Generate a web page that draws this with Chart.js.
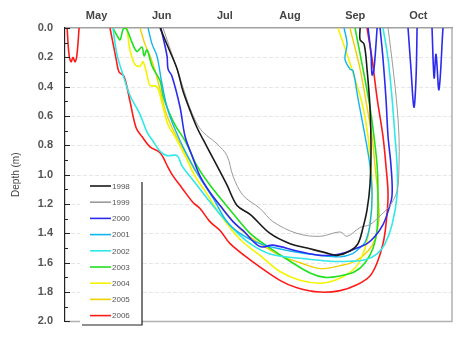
<!DOCTYPE html>
<html>
<head>
<meta charset="utf-8">
<script src="https://cdn.jsdelivr.net/npm/chart.js@4/dist/chart.umd.min.js"></script>
<style>
  html, body { margin: 0; padding: 0; background: #fff; }
  canvas { display: block; }
</style>
</head>
<body>
<canvas id="chart" width="460" height="340"></canvas>
<script>
// day of year / depth (m); null = break in the record
const years = ['1998', '1999', '2000', '2001', '2002', '2003', '2004', '2005', '2006'];
const monthLabels = ['May', 'Jun', 'Jul', 'Aug', 'Sep', 'Oct'];
const monthDays = [135, 166, 196, 227, 258, 288];
const depthTicks = [0, 0.2, 0.4, 0.6, 0.8, 1.0, 1.2, 1.4, 1.6, 1.8, 2.0];

const days1998 = [165.2,169.9,173.3,176.1,179.4,182.8,187.5,192.3,197.0,201.8,208.0,217.5,227.0,235.1,246.0,249.3,255.5,259.3,261.7,263.6,265.0,265.5,265.0,263.6,262.2,260.3,260.3];
const depth1998 = [0,0.16,0.28,0.43,0.56,0.68,0.81,0.94,1.07,1.21,1.27,1.40,1.47,1.50,1.54,1.55,1.52,1.47,1.36,1.24,1.07,0.81,0.54,0.28,0.11,0.08,0];

const days1999 = [166.6,170.9,174.7,178.5,182.3,185.6,192.3,197.0,199.9,204.6,212.7,218.9,230.3,241.3,250.8,254.1,260.3,265.0,269.8,274.5,277.9,278.8,278.8,277.9,276.0,273.6];
const depth1999 = [0,0.18,0.34,0.51,0.64,0.71,0.79,0.87,1.01,1.14,1.23,1.32,1.40,1.42,1.39,1.42,1.36,1.34,1.28,1.21,1.11,0.94,0.74,0.54,0.28,0];

const days2000 = [165.6,168.5,169.0,170.9,174.7,177.1,180.4,184.2,188.9,193.7,199.9,204.6,212.7,218.9,230.3,241.3,250.8,258.8,263.6,267.4,271.2,273.6,275.5,275.0,273.6,272.6,271.2,269.8, null,
  264.1,265.5,266.0,266.9,268.4, null,
  283.1,284.5,285.9,286.9,287.4, null,
  294.5,295.5,296.4,297.8,299.7];
const depth2000 = [0,0.19,0.28,0.33,0.54,0.74,0.87,1.01,1.12,1.21,1.32,1.38,1.49,1.48,1.52,1.55,1.54,1.50,1.47,1.42,1.34,1.25,1.14,0.94,0.74,0.48,0.21,0, null,
  0,0.18,0.32,0.28,0, null,
  0,0.28,0.54,0.34,0, null,
  0,0.34,0.18,0.42,0];

const days2001 = [159.5,161.4,163.7,166.1,168.5,171.4,176.1,182.8,190.4,197.0,203.2,212.7,227.0,241.3,250.8,256.5,259.3,262.7,265.0,266.0,265.0,262.7,259.3,256.9,255.5,253.1,254.1,252.7];
const depth2001 = [0,0.11,0.19,0.38,0.54,0.66,0.81,0.99,1.16,1.32,1.40,1.47,1.52,1.55,1.56,1.54,1.51,1.46,1.34,1.14,0.94,0.74,0.48,0.29,0.28,0.21,0.11,0];

const days2002 = [142.8,144.7,147.6,150.9,155.7,159.0,161.8,165.2,168.5,173.3,175.6,179.4,187.5,193.7,200.8,208.0,217.5,231.7,246.0,255.5,262.7,268.4,272.2,275.5,277.9,277.9,276.9,275.5,273.6,271.2];
const depth2002 = [0,0.18,0.32,0.46,0.59,0.71,0.77,0.84,0.87,0.87,0.94,1.01,1.16,1.27,1.38,1.47,1.54,1.57,1.59,1.59,1.58,1.54,1.47,1.34,1.14,0.94,0.74,0.48,0.21,0];

const days2003 = [142.8,144.7,146.2,147.6,149.0,151.9,154.2,156.6,157.6,159.0,161.4,165.2,166.6,168.5,172.3,177.1,182.8,188.9,198.5,208.0,217.5,227.0,236.5,243.6,250.8,257.9,262.7,266.5,268.4,268.8,268.4,266.9,265.0,261.7,257.9];
const depth2003 = [0,0.05,0.08,0.01,0,0.10,0.16,0.13,0.19,0.15,0.26,0.36,0.46,0.54,0.66,0.77,0.94,1.07,1.24,1.40,1.50,1.59,1.67,1.70,1.69,1.66,1.60,1.50,1.37,1.14,0.94,0.74,0.54,0.28,0];

const days2004 = [149.5,150.9,153.3,155.7,157.1,159.0,160.4,163.7,166.1,169.0,172.3,177.1,181.8,186.6,193.7,203.2,212.7,222.2,231.7,241.3,248.4,254.1,258.8,262.7,265.0,266.0,265.5,264.1,261.7,258.8,254.1,249.8];
const depth2004 = [0,0.15,0.25,0.26,0.23,0.32,0.39,0.40,0.51,0.66,0.74,0.87,1.01,1.11,1.27,1.44,1.55,1.66,1.72,1.74,1.72,1.68,1.62,1.50,1.34,1.14,0.94,0.74,0.54,0.39,0.18,0];

const days2005 = [155.7,158.0,160.4,162.8,165.2,167.6,170.9,175.6,181.8,188.9,196.1,203.2,212.7,222.2,231.7,241.3,250.8,257.9,264.1,267.4,269.3,268.8,267.4,266.0,263.6,260.3,255.5];
const depth2005 = [0,0.11,0.19,0.29,0.42,0.56,0.68,0.81,0.97,1.12,1.25,1.37,1.47,1.55,1.60,1.64,1.62,1.59,1.52,1.44,1.30,1.14,0.94,0.74,0.54,0.28,0];

const days2006 = [121.0,121.9,122.9,123.8,124.8,125.7,126.7, null,
  141.4,144.3,145.7,148.1,150.9,153.8,156.6,160.4,165.2,169.0,171.4,175.6,180.9,184.2,188.9,193.7,198.5,208.0,222.2,230.3,241.3,250.8,258.8,265.0,268.4,271.2,272.6,273.6,272.6,271.2,268.4,266.0,263.6];
const depth2006 = [0,0.18,0.23,0.20,0.23,0.18,0, null,
  0,0.21,0.30,0.33,0.50,0.68,0.74,0.81,0.85,0.95,1.01,1.09,1.19,1.23,1.32,1.38,1.47,1.58,1.72,1.77,1.80,1.79,1.75,1.69,1.60,1.47,1.34,1.14,0.94,0.74,0.48,0.21,0];

const allDays = [days1998, days1999, days2000, days2001, days2002, days2003, days2004, days2005, days2006];
const allDepths = [depth1998, depth1999, depth2000, depth2001, depth2002, depth2003, depth2004, depth2005, depth2006];

// estilos
const colors = ['#1a1a1a', '#9a9a9a', '#2b2bf0', '#10b4f0', '#30e8e8', '#20e020', '#f4f400', '#f0d000', '#ff1a1a'];
const widths = [1.6, 1, 1.6, 1.4, 1.6, 1.6, 1.6, 1.4, 1.6];

function toPoints(d, v) {
    return d.map((x, i) => (x === null ? { x: null, y: null } : { x: x, y: v[i] }));
}

const datasets = years.map((y, i) => ({
    label: y,
    data: toPoints(allDays[i], allDepths[i]),
    borderColor: colors[i],
    borderWidth: widths[i],
    pointRadius: 0,
    tension: 0.35,
    spanGaps: false,
    fill: false
}));

// grade, ticks, bordas e legenda
const decor = {
    id: 'decor',
    beforeDatasetsDraw(chart) {
        const { ctx, chartArea: ca, scales: { y } } = chart;
        ctx.save();
        ctx.strokeStyle = '#e6e6e6';
        ctx.lineWidth = 1;
        ctx.setLineDash([4, 2]);
        depthTicks.slice(1, -1).forEach(v => {
            const py = Math.round(y.getPixelForValue(v)) + 0.5;
            ctx.beginPath();
            ctx.moveTo(ca.left, py);
            ctx.lineTo(ca.right, py);
            ctx.stroke();
        });
        ctx.restore();
    },
    afterDraw(chart) {
        const { ctx, chartArea: ca, scales: { y } } = chart;
        ctx.save();
        // bordas direita e inferior
        ctx.strokeStyle = '#b0b0b0';
        ctx.lineWidth = 1.5;
        ctx.beginPath();
        ctx.moveTo(ca.left, ca.bottom);
        ctx.lineTo(ca.right, ca.bottom);
        ctx.lineTo(ca.right, ca.top);
        ctx.stroke();
        // ticks do eixo y (para dentro)
        ctx.strokeStyle = '#222';
        ctx.lineWidth = 1;
        for (let k = 0; k <= 20; k++) {
            const py = Math.round(y.getPixelForValue(k / 10)) + 0.5;
            const len = k % 2 === 0 ? 5 : 3;
            ctx.beginPath();
            ctx.moveTo(ca.left, py);
            ctx.lineTo(ca.left + len, py);
            ctx.stroke();
        }
        // legenda
        const lx = ca.left + 15, ly = ca.top + 151;
        const lw = 62, lh = 146;
        ctx.fillStyle = '#fff';
        ctx.fillRect(lx, ly, lw, lh);
        ctx.strokeStyle = '#222';
        ctx.lineWidth = 1.2;
        ctx.beginPath();
        ctx.moveTo(lx + lw, ly + 3);
        ctx.lineTo(lx + lw, ly + lh);
        ctx.lineTo(lx + 2, ly + lh);
        ctx.stroke();
        ctx.font = '8px "Liberation Sans", Arial, sans-serif';
        ctx.textBaseline = 'middle';
        ctx.textAlign = 'left';
        years.forEach((yr, i) => {
            const ry = ly + 7 + i * 16.2;
            ctx.strokeStyle = colors[i];
            ctx.lineWidth = 1.6;
            ctx.beginPath();
            ctx.moveTo(lx + 10, ry);
            ctx.lineTo(lx + 31, ry);
            ctx.stroke();
            ctx.fillStyle = '#555';
            ctx.fillText(yr, lx + 32, ry + 0.5);
        });
        ctx.restore();
    }
};

const ctx = document.getElementById('chart').getContext('2d');
new Chart(ctx, {
    type: 'line',
    data: { datasets: datasets },
    options: {
        responsive: false,
        devicePixelRatio: 1,
        animation: false,
        parsing: true,
        layout: { padding: { left: 0, right: 8, top: 0, bottom: 10 } },
        plugins: { legend: { display: false }, tooltip: { enabled: false } },
        scales: {
            x: {
                type: 'linear',
                position: 'top',
                min: 120,
                max: 304,
                afterBuildTicks: s => { s.ticks = monthDays.map(v => ({ value: v })); },
                afterFit: s => { s.height = 28; },
                ticks: {
                    autoSkip: false,
                    maxRotation: 0,
                    padding: 5,
                    color: '#444',
                    font: { family: '"Liberation Sans", Arial, sans-serif', size: 11, weight: 'bold' },
                    callback: v => monthLabels[monthDays.indexOf(v)]
                },
                grid: { display: false, drawTicks: false },
                border: { display: true, color: '#a0a0a0', width: 1.5 }
            },
            y: {
                type: 'linear',
                reverse: true,
                min: 0,
                max: 2,
                afterBuildTicks: s => { s.ticks = depthTicks.map(v => ({ value: v })); },
                afterFit: s => { s.width = 65; },
                ticks: {
                    padding: 12,
                    color: '#555',
                    font: { family: '"Liberation Sans", Arial, sans-serif', size: 11, weight: 'bold' },
                    callback: v => v.toFixed(1)
                },
                grid: { display: false, drawTicks: false },
                border: { display: true, color: '#222', width: 1.2 },
                title: {
                    display: true,
                    text: 'Depth (m)',
                    color: '#444',
                    padding: { top: 10, bottom: 0 },
                    font: { family: '"Liberation Sans", Arial, sans-serif', size: 10 }
                }
            }
        }
    },
    plugins: [decor]
});
</script>
</body>
</html>
